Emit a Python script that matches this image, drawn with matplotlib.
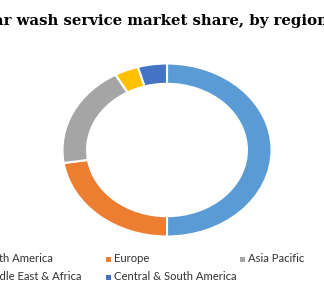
import matplotlib
matplotlib.use("Agg")
import matplotlib.pyplot as plt
from matplotlib.patches import Rectangle

title = "Car wash service market share, by region"
regions = ["North America", "Europe", "Asia Pacific",
           "Middle East & Africa", "Central & South America"]
shares = [50.0, 22.6, 19.2, 3.7, 4.5]
colors = ["#5B9BD5", "#ED7D31", "#A5A5A5", "#FFC000", "#4472C4"]

W, H = 324, 300
fig = plt.figure(figsize=(W / 100, H / 100), dpi=100)
fig.patch.set_facecolor("white")

ax = fig.add_axes([62.5 / W, 1 - 236.5 / H, 209 / W, 173 / H])
ax.pie(shares, colors=colors, startangle=90, counterclock=False, radius=1,
       wedgeprops=dict(width=0.235, edgecolor="white", linewidth=1.5))
ax.set_aspect("auto")
ax.set_xlim(-1, 1)
ax.set_ylim(-1, 1)
ax.axis("off")

fig.text(155 / W, 1 - 21.5 / H, title, ha="center", va="center",
         fontsize=10.7, fontweight="bold", family="DejaVu Serif", color="#000000")

# legend, row-major like the original
col_x = [-20, 114, 248]
row_y = [259, 277]
for i, (lab, c) in enumerate(zip(regions, colors)):
    r, cidx = divmod(i, 3)
    x = col_x[cidx]
    y = row_y[r]
    fig.patches.append(Rectangle(((x - 8) / W, 1 - (y + 2.5) / H), 5 / W, 5 / H,
                                 transform=fig.transFigure, facecolor=c,
                                 edgecolor="none"))
    fig.text(x / W, 1 - y / H, lab, ha="left", va="center", fontsize=8.1,
             family="Lato", color="#333333")

fig.savefig("out.png", dpi=100)
